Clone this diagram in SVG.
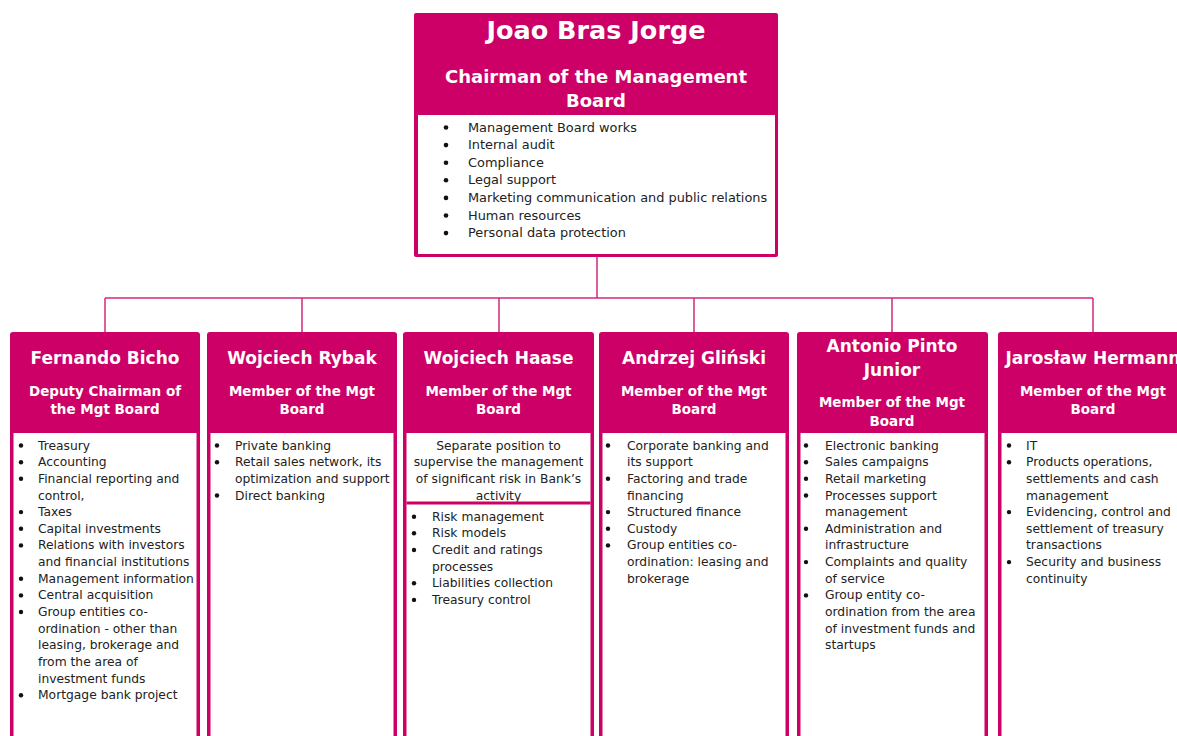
<svg xmlns="http://www.w3.org/2000/svg" width="1177" height="736" viewBox="0 0 1177 736">
<style>
.box{fill:#CC0066}
.body{fill:#FFFFFF}
.con{stroke:#D22A7C;stroke-width:1.5;fill:none}
.nm{font-family:"DejaVu Sans",Verdana,sans-serif;font-weight:bold;fill:#FFFFFF;text-anchor:middle}
.big{font-size:25.5px}
.sub1{font-size:18px}
.name{font-size:17px}
.sub{font-size:13.5px}
.li{font-family:"DejaVu Sans",Verdana,sans-serif;font-size:12.3px;fill:#222222}
.lt{font-size:12.9px}
.ctr{text-anchor:middle}
.bul{fill:#111111}
</style>
<rect width="1177" height="736" fill="#FFFFFF"/>
<g id="connectors">
<path class="con" d="M597 257 V298 M105 298 H1093 M105 298 V332 M302 298 V332 M499 298 V332 M694 298 V332 M892 298 V332 M1093 298 V332"/>
</g>
<g id="chairman">
<rect class="box" x="414" y="13" width="364" height="244" rx="2"/>
<rect class="body" x="418" y="115" width="357" height="139"/>
<text class="nm big" x="596" y="38.5">Joao Bras Jorge</text>
<text class="nm sub1" x="596" y="82.5">Chairman of the Management</text>
<text class="nm sub1" x="596" y="107">Board</text>
<g class="bul"><circle cx="446" cy="127.5" r="2.3"/><circle cx="446" cy="145.1" r="2.3"/><circle cx="446" cy="162.7" r="2.3"/><circle cx="446" cy="180.3" r="2.3"/><circle cx="446" cy="197.9" r="2.3"/><circle cx="446" cy="215.5" r="2.3"/><circle cx="446" cy="233.1" r="2.3"/></g>
<text class="li lt"><tspan x="468" y="131.5">Management Board works</tspan><tspan x="468" y="149.1">Internal audit</tspan><tspan x="468" y="166.7">Compliance</tspan><tspan x="468" y="184.3">Legal support</tspan><tspan x="468" y="201.9">Marketing communication and public relations</tspan><tspan x="468" y="219.5">Human resources</tspan><tspan x="468" y="237.1">Personal data protection</tspan></text>
</g>
<g id="bicho">
<rect class="box" x="10" y="332" width="190" height="430" rx="3"/>
<rect class="body" x="13.5" y="433" width="183" height="330"/>
<text class="nm name" x="105" y="364">Fernando Bicho</text>
<text class="nm sub" x="105" y="396">Deputy Chairman of</text>
<text class="nm sub" x="105" y="414">the Mgt Board</text>
<g class="bul"><circle cx="21" cy="445.5" r="2.2"/><circle cx="21" cy="462.2" r="2.2"/><circle cx="21" cy="478.8" r="2.2"/><circle cx="21" cy="512.1" r="2.2"/><circle cx="21" cy="528.8" r="2.2"/><circle cx="21" cy="545.4" r="2.2"/><circle cx="21" cy="578.7" r="2.2"/><circle cx="21" cy="595.4" r="2.2"/><circle cx="21" cy="612" r="2.2"/><circle cx="21" cy="695.3" r="2.2"/></g>
<text class="li"><tspan x="38" y="449.5">Treasury</tspan><tspan x="38" y="466.2">Accounting</tspan><tspan x="38" y="482.8">Financial reporting and</tspan><tspan x="38" y="499.5">control,</tspan><tspan x="38" y="516.1">Taxes</tspan><tspan x="38" y="532.8">Capital investments</tspan><tspan x="38" y="549.4">Relations with investors</tspan><tspan x="38" y="566.1">and financial institutions</tspan><tspan x="38" y="582.7">Management information</tspan><tspan x="38" y="599.4">Central acquisition</tspan><tspan x="38" y="616">Group entities co-</tspan><tspan x="38" y="632.7">ordination - other than</tspan><tspan x="38" y="649.3">leasing, brokerage and</tspan><tspan x="38" y="666">from the area of</tspan><tspan x="38" y="682.6">investment funds</tspan><tspan x="38" y="699.3">Mortgage bank project</tspan></text>
</g>
<g id="rybak">
<rect class="box" x="207" y="332" width="190" height="430" rx="3"/>
<rect class="body" x="210.5" y="433" width="183" height="330"/>
<text class="nm name" x="302" y="364">Wojciech Rybak</text>
<text class="nm sub" x="302" y="396">Member of the Mgt</text>
<text class="nm sub" x="302" y="414">Board</text>
<g class="bul"><circle cx="217" cy="445.5" r="2.2"/><circle cx="217" cy="462.2" r="2.2"/><circle cx="217" cy="495.5" r="2.2"/></g>
<text class="li"><tspan x="235" y="449.5">Private banking</tspan><tspan x="235" y="466.2">Retail sales network, its</tspan><tspan x="235" y="482.8">optimization and support</tspan><tspan x="235" y="499.5">Direct banking</tspan></text>
</g>
<g id="haase">
<rect class="box" x="403" y="332" width="191" height="430" rx="3"/>
<rect class="body" x="406.5" y="433" width="184" height="330"/>
<text class="nm name" x="498.5" y="364">Wojciech Haase</text>
<text class="nm sub" x="498.5" y="396">Member of the Mgt</text>
<text class="nm sub" x="498.5" y="414">Board</text>
<text class="li ctr"><tspan x="498.5" y="449.5">Separate position to</tspan><tspan x="498.5" y="466.2">supervise the management</tspan><tspan x="498.5" y="482.8">of significant risk in Bank’s</tspan><tspan x="498.5" y="499.5">activity</tspan></text>
<rect class="box" x="406.5" y="501.5" width="184" height="3"/>
<g class="bul"><circle cx="414" cy="516.7" r="2.2"/><circle cx="414" cy="533.3" r="2.2"/><circle cx="414" cy="550" r="2.2"/><circle cx="414" cy="583.3" r="2.2"/><circle cx="414" cy="599.9" r="2.2"/></g>
<text class="li"><tspan x="432" y="520.7">Risk management</tspan><tspan x="432" y="537.3">Risk models</tspan><tspan x="432" y="554">Credit and ratings</tspan><tspan x="432" y="570.6">processes</tspan><tspan x="432" y="587.3">Liabilities collection</tspan><tspan x="432" y="603.9">Treasury control</tspan></text>
</g>
<g id="glinski">
<rect class="box" x="599" y="332" width="190" height="430" rx="3"/>
<rect class="body" x="602.5" y="433" width="183" height="330"/>
<text class="nm name" x="694" y="364">Andrzej Gliński</text>
<text class="nm sub" x="694" y="396">Member of the Mgt</text>
<text class="nm sub" x="694" y="414">Board</text>
<g class="bul"><circle cx="608" cy="445.5" r="2.2"/><circle cx="608" cy="478.8" r="2.2"/><circle cx="608" cy="512.1" r="2.2"/><circle cx="608" cy="528.8" r="2.2"/><circle cx="608" cy="545.4" r="2.2"/></g>
<text class="li"><tspan x="627" y="449.5">Corporate banking and</tspan><tspan x="627" y="466.2">its support</tspan><tspan x="627" y="482.8">Factoring and trade</tspan><tspan x="627" y="499.5">financing</tspan><tspan x="627" y="516.1">Structured finance</tspan><tspan x="627" y="532.8">Custody</tspan><tspan x="627" y="549.4">Group entities co-</tspan><tspan x="627" y="566.1">ordination: leasing and</tspan><tspan x="627" y="582.7">brokerage</tspan></text>
</g>
<g id="pinto">
<rect class="box" x="797" y="332" width="191" height="430" rx="3"/>
<rect class="body" x="800.5" y="433" width="184" height="330"/>
<text class="nm name" x="892" y="352">Antonio Pinto</text>
<text class="nm name" x="892" y="376">Junior</text>
<text class="nm sub" x="892" y="407">Member of the Mgt</text>
<text class="nm sub" x="892" y="426">Board</text>
<g class="bul"><circle cx="806" cy="445.5" r="2.2"/><circle cx="806" cy="462.2" r="2.2"/><circle cx="806" cy="478.8" r="2.2"/><circle cx="806" cy="495.5" r="2.2"/><circle cx="806" cy="528.8" r="2.2"/><circle cx="806" cy="562.1" r="2.2"/><circle cx="806" cy="595.4" r="2.2"/></g>
<text class="li"><tspan x="825" y="449.5">Electronic banking</tspan><tspan x="825" y="466.2">Sales campaigns</tspan><tspan x="825" y="482.8">Retail marketing</tspan><tspan x="825" y="499.5">Processes support</tspan><tspan x="825" y="516.1">management</tspan><tspan x="825" y="532.8">Administration and</tspan><tspan x="825" y="549.4">infrastructure</tspan><tspan x="825" y="566.1">Complaints and quality</tspan><tspan x="825" y="582.7">of service</tspan><tspan x="825" y="599.4">Group entity co-</tspan><tspan x="825" y="616">ordination from the area</tspan><tspan x="825" y="632.7">of investment funds and</tspan><tspan x="825" y="649.3">startups</tspan></text>
</g>
<g id="hermann">
<rect class="box" x="998" y="332" width="190" height="430" rx="3"/>
<rect class="body" x="1001.5" y="433" width="183" height="330"/>
<text class="nm name" x="1093" y="364">Jarosław Hermann</text>
<text class="nm sub" x="1093" y="396">Member of the Mgt</text>
<text class="nm sub" x="1093" y="414">Board</text>
<g class="bul"><circle cx="1009" cy="445.5" r="2.2"/><circle cx="1009" cy="462.2" r="2.2"/><circle cx="1009" cy="512.1" r="2.2"/><circle cx="1009" cy="562.1" r="2.2"/></g>
<text class="li"><tspan x="1026" y="449.5">IT</tspan><tspan x="1026" y="466.2">Products operations,</tspan><tspan x="1026" y="482.8">settlements and cash</tspan><tspan x="1026" y="499.5">management</tspan><tspan x="1026" y="516.1">Evidencing, control and</tspan><tspan x="1026" y="532.8">settlement of treasury</tspan><tspan x="1026" y="549.4">transactions</tspan><tspan x="1026" y="566.1">Security and business</tspan><tspan x="1026" y="582.7">continuity</tspan></text>
</g>
</svg>
